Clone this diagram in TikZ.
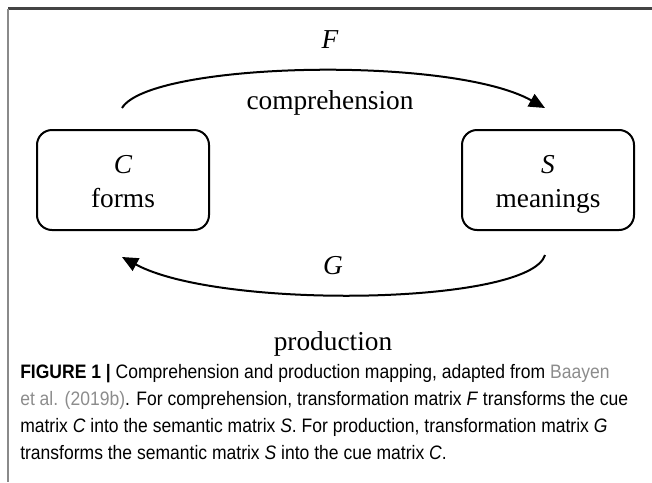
\documentclass[tikz,border=0pt]{standalone}
\usepackage{fontspec}
\setmainfont{Liberation Serif}
\newfontfamily\capfont[FakeStretch=0.9]{Liberation Sans}
\usepackage{xcolor}
\usepackage{tikz}
\usetikzlibrary{arrows.meta}
\usetikzlibrary{positioning}
\definecolor{framegray}{HTML}{444444}
\definecolor{sidegray}{HTML}{8A8A8A}
\definecolor{linkgray}{HTML}{8C8C8C}
\newcommand{\topstrut}{\rule{0pt}{23pt}}
\tikzset{
    matbox/.style = {rectangle, rounded corners=15*0.75pt, draw=black, line width=1.5pt, align=center, minimum width=172*0.75pt, minimum height=100*0.75pt, font=\fontsize{20.5}{25.5}\selectfont},
    maplabel/.style = {font=\fontsize{20.5}{24}\selectfont, inner sep=0pt},
    mapedge/.style = {line width=1.5pt, -{Triangle[length=12pt,width=10.5pt]}},
}
\begin{document}
\begin{tikzpicture}[x=0.75pt, y=-0.75pt]
\useasboundingbox (0,0) rectangle (652,482);
% frame lines
\coordinate (tl) at (8,8.5);
\coordinate (tr) at (652,8.5);
\coordinate (bl) at (8,482);
\draw[framegray, line width=1.6pt] (tl) -- (tr);
\draw[sidegray, line width=1.2pt] (tl) -- (bl);
%
\node[matbox] at (123,180) (forms) {\topstrut\textit{C}\\forms\strut};
\node[matbox] at (548,180) (meanings) {\topstrut\textit{S}\\meanings\strut};
%
\coordinate (f1) at (122,108);
\coordinate (f2) at (545,108);
\coordinate (g1) at (545,255);
\coordinate (g2) at (122,257);
\draw[mapedge] (f1) .. controls (150,62) and (450,55) .. (f2);
\draw[mapedge] (g1) .. controls (530,305) and (220,310) .. (g2);
%
\node[maplabel] at (330,40) (flab) {\textit{F}};
\node[maplabel] at (330,103) (comp) {comprehension};
\node[maplabel] at (333,266) (glab) {\textit{G}};
\node[maplabel] at (333,344) (prod) {production};
%
\node[anchor=north west, inner sep=0pt, align=left,
      font=\capfont\fontsize{14.6}{20.3}\selectfont] at (20,364) (caption)
{\textbf{FIGURE 1 |} Comprehension and production mapping, adapted from \textcolor{linkgray}{Baayen}\\
\textcolor{linkgray}{et al. (2019b)}. For comprehension, transformation matrix \textit{F} transforms the cue\\
matrix \textit{C} into the semantic matrix \textit{S}. For production, transformation matrix \textit{G}\\
transforms the semantic matrix \textit{S} into the cue matrix \textit{C}.};
\end{tikzpicture}
\end{document}
